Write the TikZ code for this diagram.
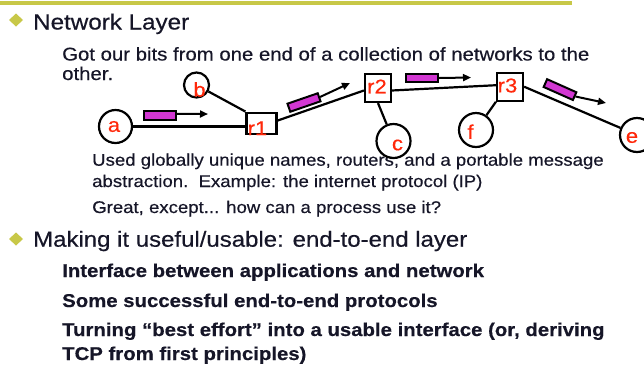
\documentclass[tikz,border=0pt]{standalone}
\usepackage{fontspec}
\setmainfont{Liberation Sans}[FakeStretch=1.1, FakeBold=0.4]
\usetikzlibrary{arrows.meta}

\definecolor{ink}{RGB}{22,22,40}
\definecolor{olivebar}{RGB}{200,200,72}
\definecolor{lblred}{RGB}{255,40,10}
\definecolor{pktfill}{RGB}{210,55,210}

\begin{document}
\begin{tikzpicture}[x=1pt,y=-1pt,
  host/.style={circle, draw, line width=2.2pt, minimum size=33pt, inner sep=0pt},
  router/.style={rectangle, draw, line width=2.2pt, inner sep=0pt, minimum width=26pt, minimum height=28pt},
  link/.style={line width=2.2pt},
  packet/.style={rectangle, draw, fill=pktfill, line width=2pt, minimum width=32pt, minimum height=8.5pt, inner sep=0pt},
  flow/.style={line width=2pt, -{Triangle[length=8pt,width=7pt]}},
  lbl/.style={text=lblred, font=\fontsize{20}{22}\selectfont, inner sep=0pt},
  txt/.style={anchor=base west, inner sep=0pt, text=ink},
  levelone/.style={txt, font=\fontsize{22}{26}\selectfont},
  leveltwo/.style={txt, font=\fontsize{18.5}{22}\selectfont},
  levelthree/.style={txt, font=\fontsize{16.9}{20}\selectfont},
  levelbold/.style={txt, font=\bfseries\fontsize{18.5}{22}\selectfont},
]
% page and title rule
\path[fill=white, use as bounding box] (0,0) rectangle (644,365);
\draw[olivebar, line width=4pt] (0,2.5) -- (572,2.5);

% bullets
\fill[olivebar] (9,20) -- (16,13.5) -- (23,20) -- (16,26.5) -- cycle;
\fill[olivebar] (9,239) -- (16,232.5) -- (23,239) -- (16,245.5) -- cycle;

% text
\node[levelone] (t1) at (33,29.5) {Network Layer};
\node[leveltwo] (t2) at (62,60.5) {Got our bits from one end of a collection of networks to the};
\node[leveltwo] (t3) at (62,80) {other.};
\node[levelthree] (t4) at (92,165.7) {Used globally unique names, routers, and a portable message};
\node[levelthree] (t5) at (92,187) {abstraction.\ \ Example: the internet protocol (IP)};
\node[levelthree] (t6) at (92,213) {Great, except... how can a process use it?};
\node[levelone, font=\fontsize{21.8}{26}\selectfont] (t7) at (33,246.7) {Making it useful/usable: end-to-end layer};
\node[levelbold] (t8) at (62,277) {Interface between applications and network};
\node[levelbold] (t9) at (62,307) {Some successful end-to-end protocols};
\node[levelbold] (t10) at (62,336) {Turning “best effort” into a usable interface (or, deriving};
\node[levelbold] (t11) at (62,360) {TCP from first principles)};

% hosts and routers
\node[host] (a) at (115.5,126.5) {};
\node[host, minimum size=25pt] (b) at (196.5,85) {};
\node[router, minimum width=30pt, minimum height=21.5pt] (r1) at (261.5,123.4) {};
\node[router] (r2) at (378,88) {};
\node[router] (r3) at (510,86.7) {};
\node[host, minimum size=34pt] (c) at (393.5,141) {};
\node[host, minimum size=34pt] (f) at (476,130) {};
\node[host, minimum size=34pt] (e) at (637,135) {};

% links
\draw[link] (a) -- (a -| r1.west);
\draw[link] (b) -- (r1.north west);
\draw[link] (r1.10) -- (r2.190);
\draw[link] (r2.-10) -- (r3.174);
\draw[link] (r2.south) -- (c);
\draw[link] (r3.south west) -- (f);
\draw[link] (r3.east) -- (e);

% labels
\node[lbl] (la) at (114,126.5) {a};
\node[lbl] (lb) at (199.5,89.5) {b};
\node[lbl] (lr1) at (257.5,128.3) {r1};
\node[lbl] (lr2) at (377,86.5) {r2};
\node[lbl] (lr3) at (507.5,85.5) {r3};
\node[lbl] (lc) at (397.5,145) {c};
\node[lbl] (lf) at (470.5,131.7) {f};
\node[lbl] (le) at (632,137.5) {e};

% packets in flight
\node[packet] (p1) at (160,115.7) {};
\node[packet, rotate=19] (p2) at (304,102.5) {};
\node[packet] (p3) at (422,78) {};
\node[packet, rotate=-24] (p4) at (560,89.6) {};
\coordinate (p1tip) at (208,114);
\coordinate (p2tip) at (350,83);
\coordinate (p3tip) at (471,77.5);
\coordinate (p4tip) at (606,103);
\draw[flow] (p1.6) -- (p1tip);
\draw[flow] (p2.east) -- (p2tip);
\draw[flow] (p3.east) -- (p3tip);
\draw[flow] (p4.east) -- (p4tip);
\end{tikzpicture}
\end{document}
